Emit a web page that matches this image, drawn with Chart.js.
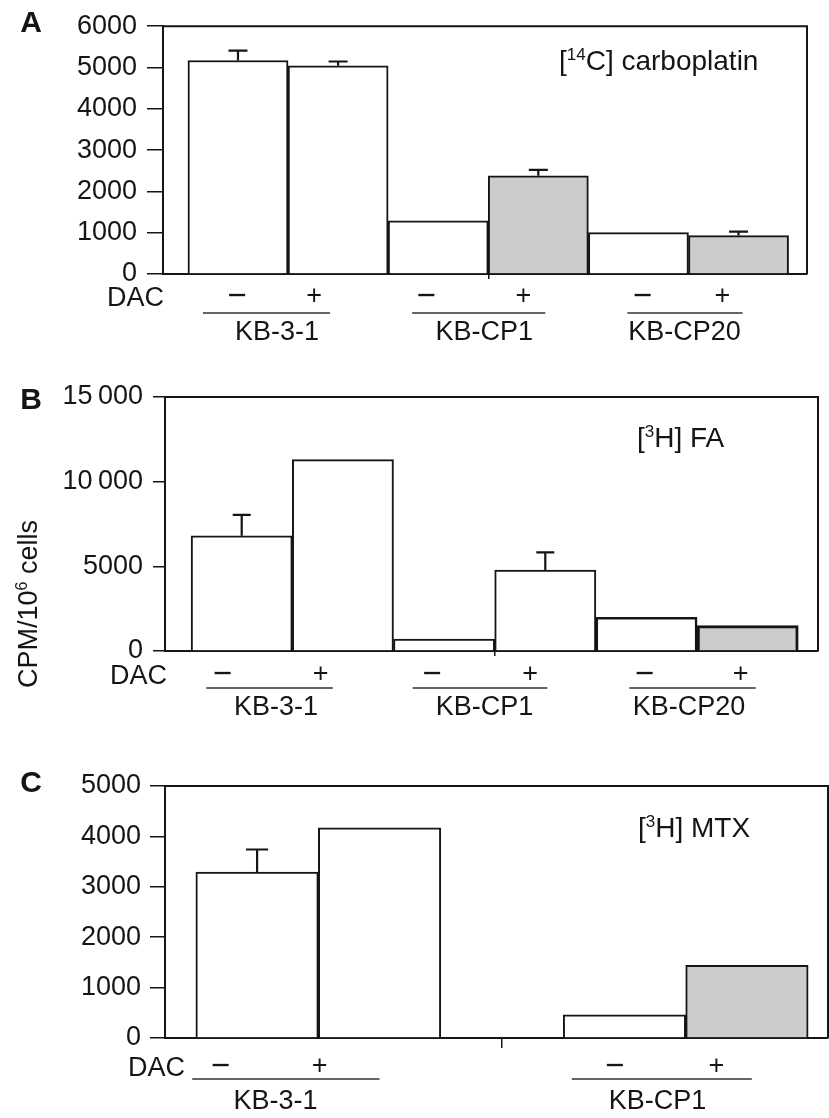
<!DOCTYPE html>
<html>
<head>
<meta charset="utf-8">
<script src="https://cdn.jsdelivr.net/npm/chart.js@4.4.0/dist/chart.umd.min.js"></script>
<style>
  body { margin: 0; background: #fff; }
  #wrap { position: relative; width: 829px; height: 1118px; }
  canvas { position: absolute; left: 0; }
</style>
</head>
<body>
<div id="wrap">
  <canvas id="chartA" width="829" height="355" style="top:0"></canvas>
  <canvas id="chartB" width="829" height="370" style="top:360px"></canvas>
  <canvas id="chartC" width="829" height="388" style="top:730px"></canvas>
</div>
<script>
// values, CPM / 10^6 cells
const dacSigns = ['\u2212', '+']
const cellLinesAB = ['KB-3-1', 'KB-CP1', 'KB-CP20']
const cellLinesC = ['KB-3-1', 'KB-CP1']

// bar slots on the x axis (panel C leaves slot 2 empty)
const slotsAB = [0, 1, 2, 3, 4, 5]
const slotsC = [0, 1, 3, 4]

const carboValues = [5170, 5040, 1290, 2380, 1000, 930]
const carboErrors = [240, 105, 0, 140, 0, 95]

const faValues = [6800, 11300, 700, 4780, 1990, 1500]
const faErrors = [1240, 0, 0, 1050, 0, 0]

const mtxValues = [3290, 4170, 460, 1440]
const mtxErrors = [450, 0, 0, 0]

const ticksA = [0, 1000, 2000, 3000, 4000, 5000, 6000]
const tickLabelsA = ['0', '1000', '2000', '3000', '4000', '5000', '6000']
const ticksB = [0, 5000, 10000, 15000]
const tickLabelsB = ['0', '5000', '10\u2009000', '15\u2009000']
const ticksC = [0, 1000, 2000, 3000, 4000, 5000]
const tickLabelsC = ['0', '1000', '2000', '3000', '4000', '5000']

const INK = '#151515'
const WHITE = '#ffffff'
const GRAY = '#cccccc'
const FONT = "'Liberation Sans', Arial, Helvetica, sans-serif"

// draws text runs, superscript runs raised and smaller
function drawRuns(ctx, runs, x, baseline, size) {
  ctx.textAlign = 'left'
  ctx.textBaseline = 'alphabetic'
  runs.forEach(([txt, sup]) => {
    const s = sup ? Math.round(size * 0.6) : size
    ctx.font = s + 'px ' + FONT
    ctx.fillText(txt, x, sup ? baseline - size * 0.36 : baseline)
    x += ctx.measureText(txt).width
  })
}

function decorPlugin(p) {
  return {
    id: 'decor',
    afterDatasetsDraw(chart) {
      const ctx = chart.ctx
      const area = chart.chartArea
      const xs = chart.scales.x
      const ys = chart.scales.y
      ctx.save()
      ctx.strokeStyle = INK
      ctx.fillStyle = INK

      // frame top and right
      ctx.lineWidth = 2
      ctx.beginPath()
      ctx.moveTo(area.left, area.top)
      ctx.lineTo(area.right, area.top)
      ctx.lineTo(area.right, area.bottom)
      ctx.stroke()

      // error bars
      ctx.lineWidth = 2.2
      chart.getDatasetMeta(0).data.forEach((bar, i) => {
        const err = p.errors[i]
        if (!err) return
        const top = ys.getPixelForValue(p.values[i] + err)
        ctx.beginPath()
        ctx.moveTo(bar.x, bar.y)
        ctx.lineTo(bar.x, top)
        ctx.moveTo(bar.x - p.cap / 2, top)
        ctx.lineTo(bar.x + p.cap / 2, top)
        ctx.stroke()
      })

      // DAC row, underlines and cell line names
      ctx.font = '27px ' + FONT
      ctx.textBaseline = 'middle'
      ctx.textAlign = 'right'
      ctx.fillText('DAC', p.dacRight, area.bottom + p.rowY[0] + 2)
      ctx.textAlign = 'center'
      p.signX.forEach((v, i) => {
        ctx.font = (i % 2 ? 27 : 33) + 'px ' + FONT
        ctx.fillText(dacSigns[i % 2], xs.getPixelForValue(v), area.bottom + p.rowY[0])
      })
      ctx.font = '27px ' + FONT
      ctx.lineWidth = 1.5
      ctx.strokeStyle = '#333'
      p.lines.forEach(([a, b]) => {
        ctx.beginPath()
        ctx.moveTo(xs.getPixelForValue(a), area.bottom + p.rowY[1])
        ctx.lineTo(xs.getPixelForValue(b), area.bottom + p.rowY[1])
        ctx.stroke()
      })
      p.groups.forEach((g, i) => {
        ctx.fillText(g, xs.getPixelForValue(p.groupX[i]), area.bottom + p.rowY[2])
      })

      // panel letter
      ctx.font = 'bold 30px ' + FONT
      ctx.fillText(p.letter, p.letterPos[0], p.letterPos[1])

      // tracer label
      drawRuns(ctx, p.note, p.notePos[0], p.notePos[1], 28)

      // y axis title
      if (p.yTitle) {
        ctx.save()
        ctx.translate(p.yTitlePos[0], p.yTitlePos[1])
        ctx.rotate(-Math.PI / 2)
        let w = 0
        p.yTitle.forEach(([t, sup]) => {
          ctx.font = (sup ? 16 : 27) + 'px ' + FONT
          w += ctx.measureText(t).width
        })
        ctx.translate(0, 10)
        drawRuns(ctx, p.yTitle, -w / 2, 0, 27)
        ctx.restore()
      }
      ctx.restore()
    }
  }
}

function drawPanel(p) {
  const config = {
    type: 'bar',
    data: {
      datasets: [
        {
          data: p.slots.map((s, i) => ({ x: s, y: p.values[i] })),
          backgroundColor: p.fills,
          borderColor: INK,
          borderWidth: p.borders,
          barPercentage: 1,
          categoryPercentage: 1,
        },
      ],
    },
    options: {
      responsive: false,
      animation: false,
      layout: { padding: { top: p.pad.top, right: p.pad.right, left: 0, bottom: 0 } },
      plugins: { legend: { display: false }, tooltip: { enabled: false } },
      scales: {
        x: {
          type: 'linear',
          offset: false,
          min: p.xMin,
          max: p.xMax,
          afterBuildTicks: (s) => { s.ticks = [{ value: p.midTick }] },
          ticks: { callback: () => '', autoSkip: false },
          grid: { offset: false, drawOnChartArea: false, tickLength: p.xTickLen, color: INK, lineWidth: 1.5 },
          border: { display: true, color: INK, width: 2 },
          afterFit: (s) => { s.height = p.xAxisHeight },
        },
        y: {
          min: 0,
          max: p.tickValues[p.tickValues.length - 1],
          afterBuildTicks: (s) => { s.ticks = p.tickValues.map((v) => ({ value: v })) },
          ticks: {
            callback: (v, i) => p.tickLabels[i],
            autoSkip: false,
            color: INK,
            padding: p.tickPad,
            font: { family: FONT, size: 27 },
          },
          grid: { drawOnChartArea: false, tickLength: p.yTickLen, color: INK, lineWidth: 1.5 },
          border: { color: INK, width: 2 },
          afterFit: (s) => { s.width = p.left },
        },
      },
    },
    plugins: [decorPlugin(p)],
  }
  return new Chart(document.getElementById(p.id), config)
}

// Panel A: [14C] carboplatin
drawPanel({
  id: 'chartA', pad: { top: 21, right: 22 }, left: 163, xAxisHeight: 81,
  xMin: -0.749, xMax: 5.684, midTick: 2.5, xTickLen: 5,
  tickValues: ticksA, tickLabels: tickLabelsA, yTickLen: 16, tickPad: 10,
  slots: slotsAB, values: carboValues, errors: carboErrors, cap: 19,
  fills: [WHITE, WHITE, WHITE, GRAY, WHITE, GRAY],
  borders: [2, 2, 2, 2, 2, 2],
  signX: [-0.01, 0.76, 1.88, 2.85, 4.04, 4.84],
  lines: [[-0.35, 0.92], [1.74, 3.07], [3.89, 5.04]],
  groupX: [0.39, 2.46, 4.46], groups: cellLinesAB,
  dacRight: 164, rowY: [23, 39, 59],
  letter: 'A', letterPos: [31, 24],
  note: [['[', 0], ['14', 1], ['C] carboplatin', 0]], notePos: [559, 70],
})

// Panel B: [3H] folic acid
drawPanel({
  id: 'chartB', pad: { top: 37, right: 11 }, left: 165, xAxisHeight: 79,
  xMin: -0.758, xMax: 5.695, midTick: 2.5, xTickLen: 5,
  tickValues: ticksB, tickLabels: tickLabelsB, yTickLen: 12, tickPad: 10,
  slots: slotsAB, values: faValues, errors: faErrors, cap: 18,
  fills: [WHITE, WHITE, WHITE, WHITE, WHITE, GRAY],
  borders: [2, 2, 2, 2, 2.5, 3],
  signX: [-0.19, 0.78, 1.88, 2.85, 3.98, 4.93],
  lines: [[-0.35, 0.9], [1.69, 3.02], [3.83, 5.08]],
  groupX: [0.34, 2.4, 4.42], groups: cellLinesAB,
  dacRight: 167, rowY: [24, 37, 57],
  letter: 'B', letterPos: [31, 41],
  note: [['[', 0], ['3', 1], ['H] FA', 0]], notePos: [637, 87],
  yTitle: [['CPM/10', 0], ['6', 1], [' cells', 0]], yTitlePos: [27, 244],
})

// Panel C: [3H] methotrexate
drawPanel({
  id: 'chartC', pad: { top: 56, right: 1 }, left: 165, xAxisHeight: 80,
  xMin: -0.752, xMax: 4.662, midTick: 2, xTickLen: 10,
  tickValues: ticksC, tickLabels: tickLabelsC, yTickLen: 15, tickPad: 9,
  slots: slotsC, values: mtxValues, errors: mtxErrors, cap: 22,
  fills: [WHITE, WHITE, WHITE, GRAY],
  borders: [2, 2, 2, 2],
  signX: [-0.3, 0.51, 2.92, 3.75],
  lines: [[-0.53, 1.0], [2.57, 4.04]],
  groupX: [0.15, 3.27], groups: cellLinesC,
  dacRight: 185, rowY: [28.5, 41, 63.5],
  letter: 'C', letterPos: [31, 54],
  note: [['[', 0], ['3', 1], ['H] MTX', 0]], notePos: [638, 107],
})
</script>
</body>
</html>
